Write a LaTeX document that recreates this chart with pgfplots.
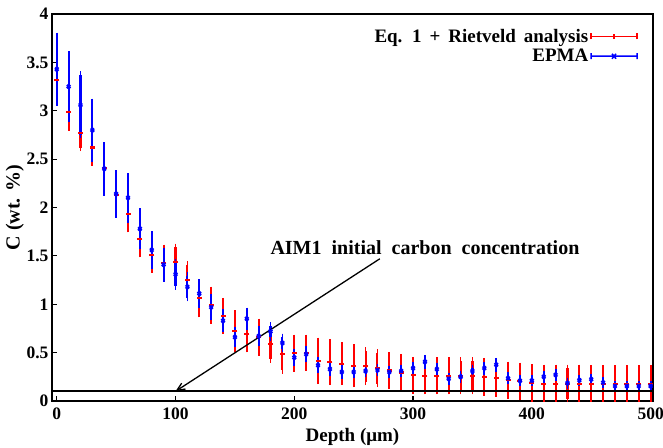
\documentclass[border=0pt]{standalone}
\usepackage{fontspec}
\setmainfont{Liberation Serif}
\usepackage{pgfplots}
\usepackage{pgfplotstable}
\pgfplotsset{compat=1.18}
\usetikzlibrary{arrows.meta}

\newcommand\legfont{\fontsize{19}{21}\selectfont\bfseries\spaceskip=0.42em\relax}
\newcommand\notefont{\fontsize{20}{22}\selectfont\bfseries\spaceskip=0.5em\relax}

\pgfplotstableread{
x y e
0 3.32 0.16
10 2.99 0.16
20 2.77 0.15
30 2.62 0.15
40 2.41 0.15
50 2.13 0.15
60 1.93 0.15
70 1.67 0.15
80 1.51 0.15
90 1.43 0.15
100 1.44 0.15
110 1.25 0.16
120 1.06 0.16
130 0.99 0.155
140 0.88 0.15
150 0.72 0.18
160 0.69 0.15
170 0.66 0.155
180 0.59 0.16
190 0.49 0.17
200 0.495 0.155
210 0.50 0.15
220 0.415 0.205
230 0.40 0.20
240 0.385 0.185
250 0.365 0.185
260 0.36 0.16
270 0.34 0.16
280 0.315 0.155
290 0.295 0.155
300 0.265 0.155
310 0.26 0.155
320 0.26 0.155
330 0.26 0.155
340 0.26 0.155
350 0.26 0.155
360 0.25 0.16
370 0.24 0.16
380 0.215 0.155
390 0.205 0.155
400 0.185 0.16
410 0.18 0.16
420 0.18 0.16
430 0.18 0.16
440 0.18 0.16
450 0.175 0.16
460 0.175 0.16
470 0.175 0.16
480 0.175 0.16
490 0.175 0.16
500 0.175 0.16
}\rietveld

\pgfplotstableread{
x y e
0 3.43 0.34
10 3.25 0.33
20 3.06 0.31
30 2.80 0.29
40 2.40 0.24
50 2.14 0.21
60 2.10 0.22
70 1.78 0.175
80 1.56 0.16
90 1.41 0.14
100 1.31 0.125
110 1.18 0.115
120 1.11 0.11
130 0.97 0.095
140 0.83 0.08
150 0.66 0.07
160 0.85 0.08
170 0.67 0.07
180 0.72 0.06
190 0.60 0.06
200 0.45 0.05
210 0.485 0.05
220 0.37 0.045
230 0.33 0.04
240 0.30 0.035
250 0.30 0.03
260 0.31 0.03
270 0.32 0.03
280 0.30 0.03
290 0.31 0.03
300 0.34 0.03
310 0.405 0.035
320 0.33 0.03
330 0.23 0.025
340 0.25 0.025
350 0.31 0.03
360 0.34 0.03
370 0.375 0.035
380 0.235 0.025
390 0.21 0.02
400 0.21 0.02
410 0.25 0.025
420 0.27 0.025
430 0.185 0.02
440 0.215 0.02
450 0.225 0.02
460 0.19 0.02
470 0.155 0.02
480 0.155 0.02
490 0.155 0.02
500 0.155 0.02
}\epma

\begin{document}
\begin{tikzpicture}[font=\fontsize{17}{20}\selectfont\bfseries]
\begin{axis}[
    scale only axis,
    width=601pt, height=387pt,
    xmin=-4, xmax=502, ymin=0, ymax=4,
    xtick={0,100,...,500},
    ytick={0,0.5,...,4},
    tick align=inside,
    tick pos=left,
    major tick length=5pt,
    tick style={black, line width=1.2pt},
    axis line style={line width=1.6pt},
    /pgf/number format/assume math mode=true,
    tick label style={font=\fontsize{17.5}{20}\selectfont\bfseries},
    xticklabel style={yshift=-3pt},
    xlabel={Depth (μm)},
    ylabel={C (wt. \%)},
    xlabel style={at={(axis description cs:0.5,-0.093)}, anchor=center, font=\fontsize{19}{22}\selectfont\bfseries},
    ylabel style={at={(axis description cs:-0.062,0.5)}, anchor=center, font=\fontsize{20}{22}\selectfont\bfseries},
    legend style={at={(0.98,0.972)}, anchor=north east, draw=none, fill=none,
        font=\legfont, row sep=1.5pt},
    legend cell align=right,
    legend plot pos=right,
]
\addplot[color=red, line width=2.1pt, mark=-, mark size=2.5pt, only marks,
    legend image code/.code={
        \draw[red, line width=1.5pt] (0pt,0pt) -- (46pt,0pt)
            (0pt,-3pt) -- (0pt,3pt) (23pt,-2.5pt) -- (23pt,2.5pt) (46pt,-3pt) -- (46pt,3pt);},
    error bars/.cd, y dir=both, y explicit,
    error mark=-, error mark options={mark size=3.5pt, line width=1.8pt, color=red},
    error bar style={line width=2.1pt, color=red}]
    table[x=x, y=y, y error=e] {\rietveld};
\addlegendentry{Eq. 1 + Rietveld analysis}
\addplot[color=blue, line width=2.1pt, mark=x, mark size=2.4pt, only marks,
    legend image code/.code={
        \draw[blue, line width=1.5pt] (0pt,0pt) -- (46pt,0pt)
            (0pt,-3pt) -- (0pt,3pt) (46pt,-3pt) -- (46pt,3pt)
            (21pt,-2.5pt) -- (25pt,2.5pt) (21pt,2.5pt) -- (25pt,-2.5pt);},
    error bars/.cd, y dir=both, y explicit,
    error mark=-, error mark options={mark size=3.5pt, line width=1.8pt, color=blue},
    error bar style={line width=2.1pt, color=blue}]
    table[x=x, y=y, y error=e] {\epma};
\addlegendentry{EPMA}
\addplot[black, line width=1.8pt, forget plot] coordinates {(-4,0.1) (502,0.1)};
\draw[-{Straight Barb[length=8pt, width=7pt]}, line width=1.3pt] (axis cs:272,1.47) -- (axis cs:100,0.1);
\node[font=\notefont] at (axis cs:310,1.58) {AIM1 initial carbon concentration};
\end{axis}
\pgfresetboundingbox
\path[use as bounding box] ([shift={(-52pt,-46pt)}]current axis.south west) rectangle ([shift={(10pt,14pt)}]current axis.north east);
\end{tikzpicture}
\end{document}
